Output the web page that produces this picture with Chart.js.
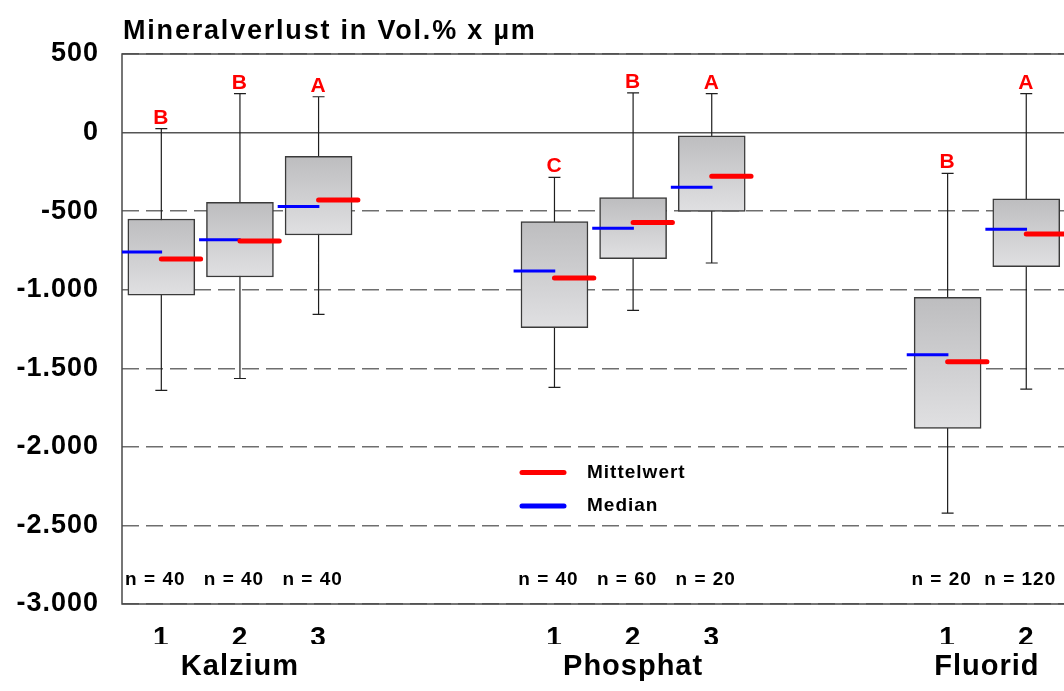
<!DOCTYPE html>
<html><head><meta charset="utf-8">
<script src="https://cdn.jsdelivr.net/npm/chart.js@4.4.1/dist/chart.umd.min.js"></script>
<style>html,body{margin:0;padding:0;background:#fff;overflow:hidden}#wrap{width:1064px;height:691px;position:relative}canvas{display:block}</style>
</head><body><div id="wrap"><canvas id="c" width="1064" height="691"></canvas></div>
<script>
// ---- data ----
const chartTitle = 'Mineralverlust in Vol.% x µm';
const groups = ['Kalzium', 'Phosphat', 'Fluorid'];
const groupOf = [0, 0, 0, 1, 1, 1, 2, 2];
const subLabels = ['1', '2', '3', '1', '2', '3', '1', '2'];
const whiskerMax = [25, 248, 228, -285, 253, 248, -260, 248];
const boxTop = [-550, -444, -151, -567, -414, -21, -1049, -422];
const boxBottom = [-1034, -919, -652, -1242, -803, -501, -1883, -854];
const whiskerMin = [-1640, -1565, -1157, -1622, -1132, -830, -2422, -1633];
const medians = [-760, -682, -471, -881, -609, -348, -1414, -616];
const means = [-805, -690, -429, -926, -573, -278, -1459, -645];
const letters = ['B', 'B', 'A', 'C', 'B', 'A', 'B', 'A'];
const nValues = [40, 40, 40, 40, 60, 20, 20, 120];
const yTickValues = [500, 0, -500, -1000, -1500, -2000, -2500, -3000];
const yTickLabels = ['500', '0', '-500', '-1.000', '-1.500', '-2.000', '-2.500', '-3.000'];
const legendLabels = ['Mittelwert', 'Median'];

// ---- layout helpers (slot positions derived from grouping) ----
const FONT = "'Liberation Sans', Arial, sans-serif";
const pos = [];
{ let prev = -1, k = 0; groupOf.forEach(g => { k = (g === prev) ? k + 1 : 0; prev = g; pos.push(g * 5 + k); }); }
const groupCenters = groups.map((_, g) => {
  const p = pos.filter((_, i) => groupOf[i] === g);
  return p.reduce((a, b) => a + b, 0) / p.length;
});

const whiskerData = [];
pos.forEach((p, i) => {
  whiskerData.push({x: p, y: whiskerMax[i]}, {x: p, y: whiskerMin[i]}, {x: p, y: null});
  whiskerData.push({x: p - 0.076, y: whiskerMax[i]}, {x: p + 0.076, y: whiskerMax[i]}, {x: p, y: null});
  whiskerData.push({x: p - 0.076, y: whiskerMin[i]}, {x: p + 0.076, y: whiskerMin[i]}, {x: p, y: null});
});
const medianData = [];
pos.forEach((p, i) => { medianData.push({x: p - 0.52, y: medians[i]}, {x: p + 0.01, y: medians[i]}, {x: p, y: null}); });
const meanData = [];
pos.forEach((p, i) => { meanData.push({x: p + 0.0, y: means[i]}, {x: p + 0.5, y: means[i]}, {x: p, y: null}); });
const boxData = pos.map((p, i) => ({x: p, y: [boxBottom[i], boxTop[i]]}));

function setSpacing(chart) { try { chart.ctx.letterSpacing = '1px'; } catch (e) {} }

const decor = {
  id: 'decor',
  beforeUpdate: setSpacing,
  beforeLayout: setSpacing,
  beforeDraw: setSpacing,
  beforeDatasetsDraw(chart) {
    const {ctx, chartArea: a} = chart;
    ctx.save();
    ctx.strokeStyle = '#4a4a4a';
    ctx.lineWidth = 1.5;
    ctx.beginPath();
    ctx.moveTo(a.right + 2, a.top); ctx.lineTo(a.left, a.top);
    ctx.lineTo(a.left, a.bottom); ctx.lineTo(a.right + 2, a.bottom);
    ctx.stroke();
    ctx.restore();
  },
  afterDatasetsDraw(chart) {
    const {ctx, chartArea: a, scales: {x, y}} = chart;
    ctx.save();
    ctx.letterSpacing = '1px';
    // significance letters
    ctx.fillStyle = '#ff0000';
    ctx.font = 'bold 21px ' + FONT;
    ctx.textAlign = 'center';
    ctx.textBaseline = 'alphabetic';
    pos.forEach((p, i) => {
      ctx.fillText(letters[i], x.getPixelForValue(p), y.getPixelForValue(whiskerMax[i]) - 5);
    });
    // n labels
    ctx.fillStyle = '#000';
    ctx.font = 'bold 19px ' + FONT;
    pos.forEach((p, i) => {
      ctx.fillText('n = ' + nValues[i], x.getPixelForValue(p) - 6, a.bottom - 19);
    });
    // legend
    const lx = a.left + 398, lw = 46;
    const rows = [{c: '#ff0000', dy: 418.5}, {c: '#0000ff', dy: 452}];
    rows.forEach((r, k) => {
      ctx.strokeStyle = r.c; ctx.lineWidth = 5; ctx.lineCap = 'round';
      ctx.beginPath(); ctx.moveTo(lx + 2, a.top + r.dy); ctx.lineTo(lx + lw - 2, a.top + r.dy); ctx.stroke();
      ctx.fillStyle = '#000';
      ctx.font = 'bold 19px ' + FONT;
      ctx.textAlign = 'left'; ctx.textBaseline = 'middle';
      ctx.fillText(legendLabels[k], lx + 67, a.top + r.dy);
    });
    // title
    ctx.letterSpacing = '1.8px';
    ctx.font = 'bold 27px ' + FONT;
    ctx.textAlign = 'left'; ctx.textBaseline = 'alphabetic';
    ctx.fillStyle = '#000';
    ctx.fillText(chartTitle, a.left + 1, 38.5);
    ctx.restore();
  }
};

new Chart(document.getElementById('c'), {
  type: 'line',
  data: {
    datasets: [
      {type: 'line', label: 'whiskers', data: whiskerData, borderColor: '#1e1e1e', borderWidth: 1.2,
       pointRadius: 0, pointHitRadius: 0, spanGaps: false, tension: 0, order: 5},
      {type: 'bar', label: 'box', data: boxData, grouped: false, barThickness: 67,
       borderSkipped: false, borderWidth: 1.5, borderColor: '#3a3a3a', order: 4,
       backgroundColor: (c) => {
         const ch = c.chart;
         if (!ch.chartArea || c.dataIndex === undefined) return '#cfcfcf';
         const ys = ch.scales.y;
         const t = ys.getPixelForValue(boxTop[c.dataIndex]);
         const b = ys.getPixelForValue(boxBottom[c.dataIndex]);
         const g = ch.ctx.createLinearGradient(0, t, 0, b);
         g.addColorStop(0, '#bdbdbf');
         g.addColorStop(1, '#e0e0e2');
         return g;
       }},
      {type: 'line', label: legendLabels[1], data: medianData, borderColor: '#0000ff', borderWidth: 3,
       borderCapStyle: 'butt', pointRadius: 0, pointHitRadius: 0, spanGaps: false, order: 3},
      {type: 'line', label: legendLabels[0], data: meanData, borderColor: '#ff0000', borderWidth: 5,
       borderCapStyle: 'round', pointRadius: 0, pointHitRadius: 0, spanGaps: false, order: 2}
    ]
  },
  options: {
    responsive: false,
    animation: false,
    devicePixelRatio: 1,
    layout: {padding: {top: 54, left: 0, right: 0, bottom: 0}},
    plugins: {legend: {display: false}, tooltip: {enabled: false}, title: {display: false}},
    scales: {
      x: {
        type: 'linear', position: 'bottom', weight: 1, min: -0.5, max: 11.48, offset: false,
        grid: {display: false, drawTicks: false}, border: {display: false},
        afterBuildTicks: (s) => { s.ticks = pos.map(v => ({value: v})); },
        afterFit: (s) => { s.height = 40; },
        ticks: {autoSkip: false, maxRotation: 0, padding: 17, color: '#000',
          font: {family: FONT, size: 28, weight: 'bold'},
          callback: (v, i) => subLabels[i]}
      },
      x2: {
        type: 'linear', position: 'bottom', weight: 2, min: -0.5, max: 11.48, offset: false,
        grid: {display: false, drawTicks: false}, border: {display: false},
        afterBuildTicks: (s) => { s.ticks = groupCenters.map(v => ({value: v})); },
        afterFit: (s) => { s.height = 47; },
        ticks: {autoSkip: false, maxRotation: 0, padding: 6, color: '#000',
          font: {family: FONT, size: 29, weight: 'bold'},
          callback: (v, i) => groups[i]}
      },
      y: {
        type: 'linear', min: -3000, max: 500,
        afterBuildTicks: (s) => { s.ticks = yTickValues.map(v => ({value: v})); },
        afterFit: (s) => { s.width = 122; },
        grid: {drawTicks: false, lineWidth: 1.5,
          color: (c) => (c.tick && c.tick.value === 0) ? '#555555' : '#6e6e6e'},
        border: {display: false, dash: (c) => (c.tick && c.tick.value === 0) ? [] : [17, 7]},
        ticks: {padding: 23, color: '#000', font: {family: FONT, size: 27, weight: 'bold'},
          callback: (v) => yTickLabels[yTickValues.indexOf(v)]}
      }
    }
  },
  plugins: [decor]
});
</script>
</body></html>
